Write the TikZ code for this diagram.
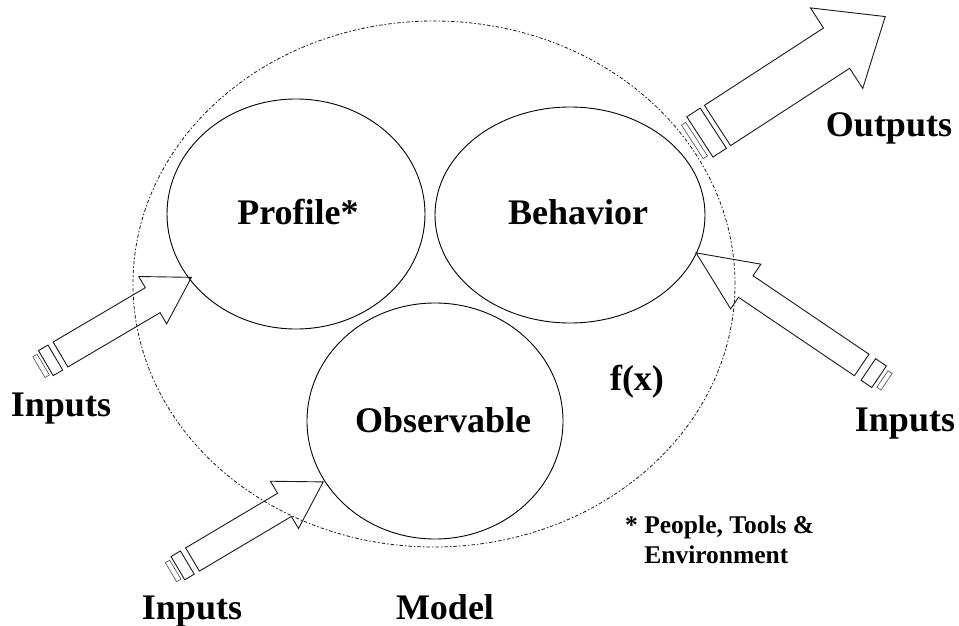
\documentclass[tikz,border=0pt]{standalone}
\usepackage{fontspec}
\setmainfont{Liberation Serif}
\usetikzlibrary{shapes.geometric}
\tikzset{
  ring/.style={ellipse, draw, line width=0.9pt, inner sep=0pt},
  modelring/.style={ellipse, draw=black!90, line width=0.8pt, dash pattern=on 3.5pt off 2pt on 1.5pt off 2pt, inner sep=0pt},
  big/.style={font=\bfseries\fontsize{36}{40}\selectfont, inner sep=0pt, anchor=base},
  small/.style={font=\bfseries\fontsize{25.5}{30}\selectfont, inner sep=0pt, align=left, anchor=base west},
  arrowline/.style={draw=black!90, line width=0.9pt, line join=miter},
  thinline/.style={draw=black!70, line width=0.6pt},
}
% #1 shaft length, #2 head length, #3 shaft half width, #4 head half width,
% #5/#6 thick plug ring (back/front), #7/#8 thin plug ring (back/front), #9 thin ring half width
\newcommand\plugarrow[9]{%
  \draw[arrowline] (0,-#3) -- (#1,-#3) -- (#1,-#4) -- ({#1+#2},0) -- (#1,#4) -- (#1,#3) -- (0,#3) -- cycle;
  \draw[arrowline] (-#5,-#3) rectangle (-#6,#3);
  \draw[thinline] (-#7,-#9) rectangle (-#8,#9);
}
\begin{document}
\begin{tikzpicture}[x=1pt, y=-1pt]
  \useasboundingbox (0,0) rectangle (959,626);
  % model boundary and the three parts
  \node[modelring, minimum width=602, minimum height=526] (model) at (434,284) {};
  \node[ring, minimum width=258, minimum height=230] (profile) at (296,214) {};
  \node[ring, minimum width=270, minimum height=216] (behavior) at (570,215) {};
  \node[ring, minimum width=256, minimum height=236] (observable) at (435,421) {};
  % labels
  \node[big] (tprofile) at (298,224) {Profile*};
  \node[big] (tbehavior) at (578,224) {Behavior};
  \node[big] (tobservable) at (443,432) {Observable};
  \node[big] (tfx) at (637,390) {f(x)};
  \node[big] (tinleft) at (61,416) {Inputs};
  \node[big] (tinright) at (905,431) {Inputs};
  \node[big] (tinbottom) at (192,619) {Inputs};
  \node[big] (toutputs) at (889,136) {Outputs};
  \node[big] (tmodel) at (445,619) {Model};
  \node[small] (tnote) at (625,563) {* People, Tools \&\\\hphantom{*\ }Environment};
  % block arrows
  \begin{scope}[shift={(60.5,354.5)}, rotate=30.5]
    \plugarrow{107}{45}{14.5}{27.5}{17}{6}{25}{20}{12}
  \end{scope}
  \begin{scope}[shift={(192.5,559.5)}, rotate=30.7]
    \plugarrow{107}{45}{13.5}{27.5}{17}{6}{25}{20}{11}
  \end{scope}
  \begin{scope}[shift={(861.7,365)}, rotate=145.9]
    \plugarrow{140}{60}{13}{27}{21}{8}{30}{25}{10}
  \end{scope}
  \begin{scope}[shift={(717.5,125.5)}, rotate=33]
    \plugarrow{142}{58}{24}{48}{21}{5}{30}{25}{20}
  \end{scope}
\end{tikzpicture}
\end{document}
